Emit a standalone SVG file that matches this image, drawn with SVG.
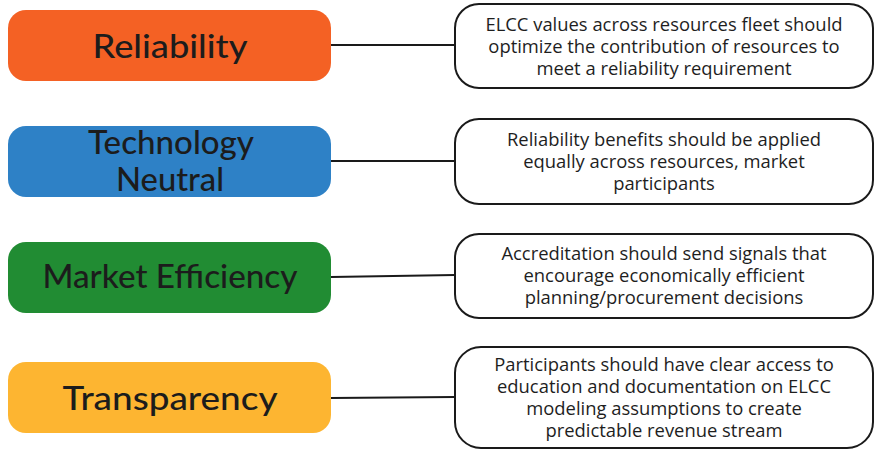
<svg xmlns="http://www.w3.org/2000/svg" width="878" height="457" viewBox="0 0 878 457">
<style>
.lbl{font-family:"Lato","Noto Sans",sans-serif;font-weight:500;font-size:33px;fill:#1c1c1c;text-anchor:middle}
.desc{font-family:"Open Sans","Noto Sans",sans-serif;font-size:18.4px;fill:#1e1e1e;text-anchor:middle}
.dbox{fill:#fff;stroke:#1a1a1a;stroke-width:2}
.con{stroke:#1a1a1a;stroke-width:2;fill:none}
</style>
<rect width="878" height="457" fill="#fff"/>
<g id="connectors">
<line class="con" x1="331" y1="45" x2="455" y2="45"/>
<line class="con" x1="331" y1="161" x2="455" y2="161"/>
<line class="con" x1="331" y1="277" x2="455" y2="275"/>
<line class="con" x1="331" y1="398" x2="455" y2="397"/>
</g>
<g id="reliability">
<rect x="8" y="10" width="323" height="71" rx="18" fill="#F46124"/>
<text class="lbl" x="170" y="58" textLength="155" lengthAdjust="spacingAndGlyphs">Reliability</text>
</g>
<g id="technology-neutral">
<rect x="8" y="126" width="323" height="71" rx="18" fill="#2E81C6"/>
<text class="lbl" x="171" y="154" textLength="166" lengthAdjust="spacingAndGlyphs">Technology</text>
<text class="lbl" x="170" y="191" textLength="108" lengthAdjust="spacingAndGlyphs">Neutral</text>
</g>
<g id="market-efficiency">
<rect x="8" y="242" width="323" height="71" rx="18" fill="#218C33"/>
<text class="lbl" x="170" y="288" textLength="255" lengthAdjust="spacingAndGlyphs">Market Efficiency</text>
</g>
<g id="transparency">
<rect x="8" y="362" width="323" height="71" rx="18" fill="#FDB531"/>
<text class="lbl" x="170" y="410" textLength="215" lengthAdjust="spacingAndGlyphs">Transparency</text>
</g>
<g id="desc-reliability">
<rect class="dbox" x="455" y="4" width="418" height="84" rx="24"/>
<text class="desc" x="664" y="31">ELCC values across resources fleet should</text>
<text class="desc" x="664" y="53">optimize the contribution of resources to</text>
<text class="desc" x="664" y="75">meet a reliability requirement</text>
</g>
<g id="desc-technology">
<rect class="dbox" x="455" y="119" width="418" height="85" rx="24"/>
<text class="desc" x="664" y="146">Reliability benefits should be applied</text>
<text class="desc" x="664" y="168">equally across resources, market</text>
<text class="desc" x="664" y="190">participants</text>
</g>
<g id="desc-market">
<rect class="dbox" x="455" y="234" width="418" height="84" rx="24"/>
<text class="desc" x="664" y="260">Accreditation should send signals that</text>
<text class="desc" x="664" y="282">encourage economically efficient</text>
<text class="desc" x="664" y="304">planning/procurement decisions</text>
</g>
<g id="desc-transparency">
<rect class="dbox" x="455" y="347" width="418" height="101" rx="26"/>
<text class="desc" x="664" y="371">Participants should have clear access to</text>
<text class="desc" x="664" y="393">education and documentation on ELCC</text>
<text class="desc" x="664" y="415">modeling assumptions to create</text>
<text class="desc" x="664" y="437">predictable revenue stream</text>
</g>
</svg>
